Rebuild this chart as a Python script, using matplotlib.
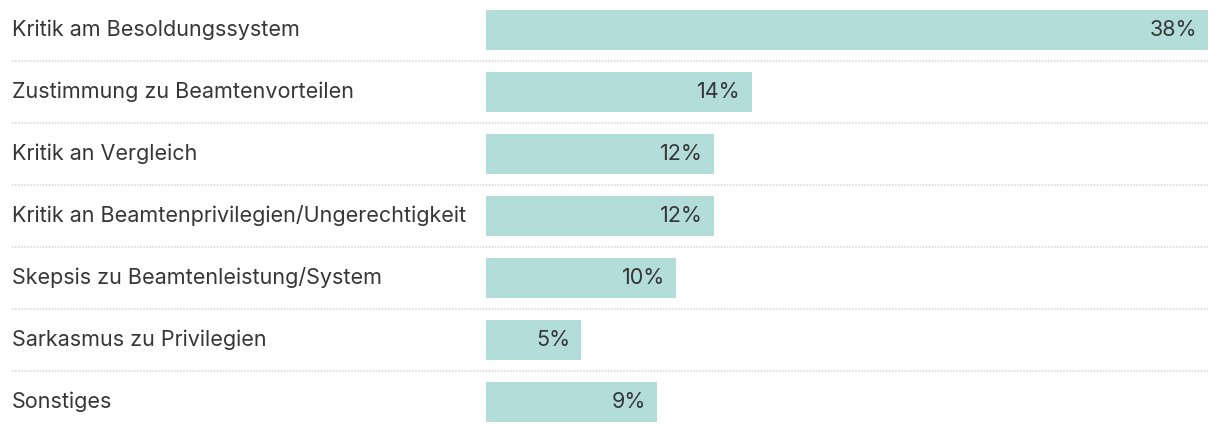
import matplotlib.pyplot as plt
from matplotlib.transforms import blended_transform_factory

# data
labels = ["Kritik am Besoldungssystem", "Zustimmung zu Beamtenvorteilen", "Kritik an Vergleich",
          "Kritik an Beamtenprivilegien/Ungerechtigkeit", "Skepsis zu Beamtenleistung/System",
          "Sarkasmus zu Privilegien", "Sonstiges"]
values = [38, 14, 12, 12, 10, 5, 9]

plt.rcParams['font.family'] = ['Inter', 'DejaVu Sans']
bar_color = '#b3ddd8'
text_color = '#363636'

W, H = 1220, 432
fig = plt.figure(figsize=(W / 100, H / 100), dpi=100)
ax = fig.add_axes([486 / W, 0, (1208 - 486) / W, 1])
ax.set_xlim(0, 38)
ax.set_ylim(402 / 62, -30 / 62)
ax.axis('off')

ypos = list(range(len(labels)))
ax.barh(ypos, values, height=40 / 62, color=bar_color, left=0)

pad = 11 * 38 / (1208 - 486)
for y, v, lab in zip(ypos, values, labels):
    ax.text(v - pad, y, f"{v}%", ha='right', va='center', fontsize=15.5, color=text_color)
    fig.text(12 / W, 1 - (30 + 62 * y) / H, lab, ha='left', va='center', fontsize=15.5,
             color=text_color)

# dotted separators between rows
tr = blended_transform_factory(fig.transFigure, ax.transData)
for y in ypos[:-1]:
    ax.plot([12 / W, 1208 / W], [y + 0.5, y + 0.5], transform=tr, color='#d5d5d5',
            linewidth=1.1, linestyle=(0, (1, 1)), clip_on=False)

fig.savefig('out.png', dpi=100)
